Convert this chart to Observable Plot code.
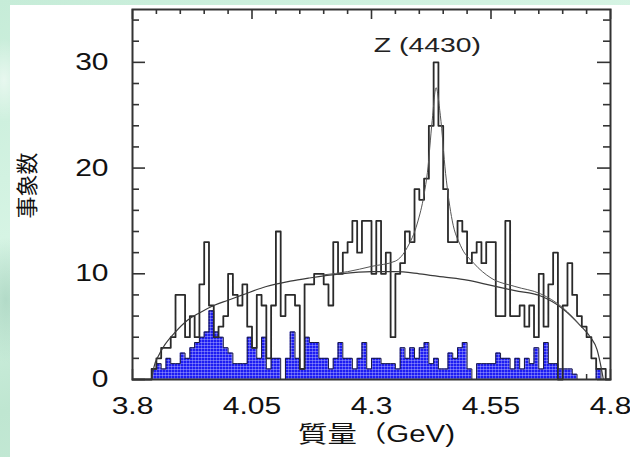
<!DOCTYPE html>
<html>
<head>
<meta charset="utf-8">
<script src="https://cdn.jsdelivr.net/npm/d3@7"></script>
<script src="https://cdn.jsdelivr.net/npm/@observablehq/plot@0.6"></script>
<style>
  html, body { margin: 0; padding: 0; }
  body {
    width: 630px; height: 457px; overflow: hidden; position: relative;
    background:
      radial-gradient(ellipse 30px 60px at 4px 80px, rgba(255,255,255,0.55), transparent 70%),
      radial-gradient(ellipse 40px 90px at 6px 300px, rgba(160,205,185,0.6), transparent 70%),
      linear-gradient(160deg, #c6ecd8 0%, #d6f4e4 35%, #bfe6d1 60%, #cdeedd 100%);
  }
  #panel { position: absolute; left: 10px; top: 5px; right: 0; bottom: 0; background: #fff; }
  #chart { position: absolute; left: 0; top: 0; }
</style>
</head>
<body>
<div id="panel"></div>
<div id="chart"></div>
<script>
// Histogram binning (GeV)
const binStart = 3.80;
const binWidth = 0.01;

// Events per 10 MeV bin, 3.80 – 4.80 GeV
const totalCounts = [
  0, 0, 0, 0, 1, 2, 3, 3, 4, 8,
  8, 4, 6, 4, 9, 13, 7, 4, 5, 6,
  10, 8, 7, 9, 5, 3, 8, 7, 2, 7,
  14, 6, 8, 8, 7, 1, 9, 9, 10, 10,
  9, 7, 13, 10, 12, 13, 15, 12, 15, 15,
  10, 15, 10, 12, 4, 10, 11, 14, 13, 18,
  17, 19, 24, 30, 24, 18, 13, 13, 15, 14,
  11, 12, 13, 11, 13, 13, 6, 6, 15, 6,
  6, 7, 5, 7, 4, 10, 5, 9, 12, 0,
  7, 11, 8, 6, 5, 4, 2, 1, 1, 0
];

// Background estimate per bin (shaded histogram)
const bgCounts = [
  0, 0, 0, 0, 1, 1.5, 1, 2, 1.5, 1.5,
  2.5, 2, 3, 3.5, 4, 4.5, 6.5, 4.5, 4, 3,
  2.5, 1.5, 1.5, 1.5, 4, 3, 2, 4, 1, 2,
  2, 0, 2, 4.5, 2, 1, 4, 3.5, 3.5, 2,
  2, 1, 2, 3.5, 2, 2, 1, 2, 3.5, 1,
  2, 2, 1.5, 1.5, 1.5, 1, 3, 2, 3, 2,
  3, 3.5, 1.5, 2, 1, 1, 2.5, 2, 3, 3.5,
  1, 0, 1.5, 1.5, 1.5, 1.5, 2.5, 2, 2, 1,
  2, 1, 2, 1.5, 3, 1, 3.5, 1.5, 1.5, 1,
  1, 1, 0.5, 0, 0, 0, 0, 1, 0, 0
];

// Background fit curve
const bgCurveMass  = [3.840, 3.845, 3.855, 3.865, 3.890, 3.915, 3.940, 3.970, 4.000, 4.030, 4.080, 4.130, 4.170, 4.235,
                      4.300, 4.350, 4.400, 4.450, 4.500, 4.550, 4.600, 4.654, 4.700, 4.737, 4.758, 4.772, 4.781, 4.785];
const bgCurveCount = [0, 1.2, 2.3, 3.1, 4.5, 5.6, 6.3, 7.0, 7.5, 8.0, 8.8, 9.3, 9.6, 10.0,
                      10.2, 10.2, 10.0, 9.7, 9.4, 8.9, 8.4, 7.9, 6.7, 5.1, 4.0, 2.8, 1.0, 0];

// Signal + background fit curve around the peak
const fitCurveMass  = [4.200, 4.250, 4.300, 4.350, 4.375, 4.396, 4.410, 4.417, 4.427, 4.435,
                       4.444, 4.455, 4.469, 4.486, 4.514, 4.550, 4.600, 4.654, 4.700, 4.737];
const fitCurveCount = [9.9, 10.2, 10.7, 11.2, 12.5, 14.8, 17.5, 19.6, 24.5, 27.6,
                       25.0, 19.5, 15.0, 12.7, 11.0, 9.6, 8.8, 8.1, 6.8, 5.1];

// Axes
const xTicks = [3.8, 4.05, 4.3, 4.55, 4.8];
const xTickLabels = ["3.8", "4.05", "4.3", "4.55", "4.8"];
const yTicks = [0, 10, 20, 30];
const xMinorStep = 0.05;
const yMinorStep = 2;

// Labels
const peakLabel = "Z (4430)";
const peakLabelMass = 4.417;
const peakLabelCount = 31.6;
const xLabel = "質量（GeV)";
const yLabel = "事象数";

const W = 630, H = 457;
const mL = 132, mR = 20, mT = 9, mB = 78;
const plotW = W - mL - mR, plotH = H - mT - mB;

const BG_FILL = "#2020f0";

const stepData = (counts) =>
  counts.map((c, i) => ({m: binStart + i * binWidth, c}))
        .concat([{m: binStart + counts.length * binWidth, c: 0}]);
const totalStep = stepData(totalCounts);
const bgStep = stepData(bgCounts);
const bgCurve = bgCurveMass.map((m, i) => ({m, c: bgCurveCount[i]}));
const fitCurve = fitCurveMass.map((m, i) => ({m, c: fitCurveCount[i]}));

const xMinor = d3.range(3.8, 4.8 + 1e-9, xMinorStep).map(d => +d.toFixed(2))
  .filter(d => !xTicks.some(t => Math.abs(t - d) < 1e-6));
const yMinor = d3.range(0, 35, yMinorStep).filter(d => d % 10 !== 0);

const axisColor = "#333";
const majY = 13, minY = 7, majX = 10, minX = 5;

const chart = Plot.plot({
  width: W, height: H,
  marginLeft: mL, marginRight: mR, marginTop: mT, marginBottom: mB,
  style: {fontFamily: "'Liberation Sans', Arial, sans-serif", fontSize: "24px", color: "#111", background: "transparent", overflow: "visible"},
  x: {domain: [3.8, 4.8], axis: null},
  y: {domain: [0, 35], axis: null},
  marks: [
    // bottom ticks (under the histograms)
    Plot.tickX(xTicks, {x: d => d, insetTop: plotH - majX, stroke: axisColor, strokeWidth: 1.5}),
    Plot.tickX(xMinor, {x: d => d, insetTop: plotH - minX, stroke: axisColor, strokeWidth: 1.5}),
    // background histogram
    Plot.areaY(bgStep, {x: "m", y: "c", curve: "step-after", fill: BG_FILL}),
    Plot.line(bgStep, {x: "m", y: "c", curve: "step-after", stroke: "#1a1a40", strokeWidth: 1}),
    // data histogram
    Plot.line(totalStep, {x: "m", y: "c", curve: "step-after", stroke: "#2a2a2a", strokeWidth: 1.8}),
    // fits
    Plot.line(bgCurve, {x: "m", y: "c", curve: "monotone-x", stroke: "#3a3a3a", strokeWidth: 1.2}),
    Plot.line(fitCurve, {x: "m", y: "c", curve: "monotone-x", stroke: "#555", strokeWidth: 1}),
    // frame and inward ticks
    Plot.frame({stroke: axisColor, strokeWidth: 2}),
    Plot.tickY(yTicks, {y: d => d, insetRight: plotW - majY, stroke: axisColor, strokeWidth: 1.6}),
    Plot.tickY(yMinor, {y: d => d, insetRight: plotW - minY, stroke: axisColor, strokeWidth: 1.6}),
    Plot.tickY(yTicks, {y: d => d, insetLeft: plotW - majY, stroke: axisColor, strokeWidth: 1.6}),
    Plot.tickY(yMinor, {y: d => d, insetLeft: plotW - minY, stroke: axisColor, strokeWidth: 1.6}),
    Plot.tickX(xTicks, {x: d => d, insetBottom: plotH - majX, stroke: axisColor, strokeWidth: 1.6}),
    Plot.tickX(xMinor, {x: d => d, insetBottom: plotH - minX, stroke: axisColor, strokeWidth: 1.6}),
    // tick labels
    Plot.axisX({ticks: xTicks, tickFormat: d => xTickLabels[xTicks.indexOf(d)], tickSize: 0, tickPadding: 17, label: null, fontSize: 24}),
    Plot.axisY({ticks: yTicks, tickFormat: d => String(d), tickSize: 0, tickPadding: 24, label: null, fontSize: 24}),
    // annotations and axis titles
    Plot.text([peakLabel], {x: () => peakLabelMass, y: () => peakLabelCount, text: d => d, fontSize: 21, fill: "#222"}),
    Plot.text([xLabel], {frameAnchor: "bottom", dx: 5, dy: 62, text: d => d, fontSize: 23,
      fontFamily: "'Liberation Sans', 'Noto Sans CJK JP', sans-serif", fill: "#111"}),
    Plot.text([yLabel], {frameAnchor: "left", dx: -105, dy: 24, rotate: -90, text: d => d, fontSize: 22,
      fontFamily: "'Noto Sans CJK JP', sans-serif", fill: "#111"})
  ]
});

document.getElementById("chart").append(chart);

// Fine grid fill for the background histogram
const svg = d3.select(chart);
const defs = svg.insert("defs", ":first-child");
const pat = defs.append("pattern").attr("id", "bggrid")
  .attr("patternUnits", "userSpaceOnUse").attr("width", 3).attr("height", 3);
pat.append("rect").attr("width", 3).attr("height", 3).attr("fill", "#1d1df2");
pat.append("rect").attr("width", 3).attr("height", 0.7).attr("fill", "#d0d0ff").attr("opacity", 0.55);
pat.append("rect").attr("width", 0.7).attr("height", 3).attr("fill", "#d0d0ff").attr("opacity", 0.45);
svg.selectAll(`[fill="${BG_FILL}"]`).attr("fill", "url(#bggrid)");

// Wide lettering: stretch horizontal text about its anchor point
chart.querySelectorAll("text").forEach(t => {
  const txt = t.textContent;
  if (txt === yLabel) return;
  const s = txt === peakLabel ? 1.35 : txt === xLabel ? 1.28 : 1.25;
  const ox = +t.getAttribute("x") || 0;
  const tr = t.getAttribute("transform") || "";
  t.setAttribute("transform", `${tr} translate(${ox},0) scale(${s},1) translate(${-ox},0)`);
});
</script>
</body>
</html>
